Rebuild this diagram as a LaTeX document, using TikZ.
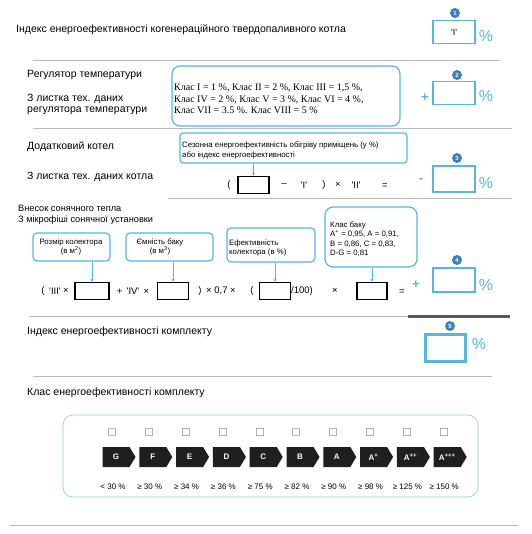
\documentclass[tikz,border=0pt]{standalone}
\usepackage{fontspec}
\setmainfont{Liberation Sans}
\newfontfamily\timesfont{Liberation Serif}
\usetikzlibrary{arrows.meta,shapes.symbols}

\definecolor{boxblue}{RGB}{88,182,222}
\definecolor{dotblue}{RGB}{58,128,192}
\definecolor{rulegray}{RGB}{185,185,185}

\newcommand{\tick}[1]{\textquotesingle#1\textquotesingle}

\tikzset{
  head/.style={anchor=west, inner sep=0pt, font=\fontsize{10.5}{12}\selectfont},
  subhead/.style={anchor=west, inner sep=0pt, font=\fontsize{9.2}{10}\selectfont},
  resbox/.style={draw=boxblue, line width=1.5pt, minimum width=42pt, minimum height=23pt, inner sep=0pt, font=\fontsize{9}{9}\selectfont},
  numdot/.style={circle, fill=dotblue, text=white, inner sep=0pt, minimum size=10pt, font=\fontsize{6}{6}\selectfont\bfseries},
  pct/.style={text=boxblue, inner sep=0pt, font=\fontsize{16}{16}\selectfont},
  sign/.style={text=boxblue, inner sep=0pt, font=\fontsize{13}{13}\selectfont\bfseries},
  frm/.style={draw=boxblue, line width=1.2pt, rounded corners=4pt, inner sep=0pt},
  calltext/.style={inner sep=0pt, font=\fontsize{7.8}{9.3}\selectfont},
  inbox/.style={draw=black, line width=1.5pt, fill=white, minimum height=17pt, inner sep=0pt},
  op/.style={inner sep=0pt, font=\fontsize{9.5}{9.5}\selectfont},
  callarrow/.style={draw=boxblue, line width=1pt, -{Stealth[length=3pt,width=3pt]}},
  sep/.style={draw=rulegray, line width=1pt}
}

\begin{document}
\begin{tikzpicture}[x=1pt,y=-1pt]
  \useasboundingbox (0,0) rectangle (531,534);

  % 1
  \node[head] (t1) at (16,30) {Індекс енергоефективності когенераційного твердопаливного котла};
  \node[resbox] (r1) at (454,32) {\tick{I}};
  \node[numdot] (n1) at (455,13) {1};
  \node[pct] (p1) at (486,36) {\%};
  \draw[sep] (33,61) -- (500,61);

  % 2
  \node[head] (t2a) at (27,75) {Регулятор температури};
  \node[head] (t2b) at (27,99) {З листка тех. даних};
  \node[head] (t2c) at (27,111) {регулятора температури};
  \node[frm, rounded corners=8pt, minimum width=228pt, minimum height=60pt] (f2) at (286,96) {};
  \node[anchor=west, inner sep=0pt, align=left, font=\timesfont\fontsize{10}{11.5}\selectfont] (k2) at (174,99)
    {Клас I = 1 \%, Клас II = 2 \%, Клас III = 1,5 \%,\\Клас IV = 2 \%, Клас V = 3 \%, Клас VI = 4 \%,\\Клас VII = 3.5 \%. Клас VIII = 5 \%};
  \node[sign] (s2) at (425,98) {+};
  \node[resbox] (r2) at (454,93) {};
  \node[numdot] (n2) at (457,75) {2};
  \node[pct] (p2) at (486,96) {\%};
  \draw[sep] (33,129) -- (512,129);

  % 3
  \node[head] (t3a) at (27,147) {Додатковий котел};
  \node[head] (t3b) at (27,177) {З листка тех. даних котла};
  \node[frm, rounded corners=3pt, minimum width=227pt, minimum height=30pt] (f3) at (293.5,148) {};
  \node[calltext, anchor=west, align=left] (c3) at (182,150.5)
    {Сезонна енергоефективність обігріву приміщень (у \%)\\або індекс енергоефективності};
  \node[inbox, minimum width=31pt] (b3) at (253.5,185) {};
  \draw[callarrow] (b3 |- f3.south) -- (b3.north);
  \node[op] (o3a) at (229,185) {(};
  \node[op] (o3b) at (284,185) {--};
  \node[op] (o3c) at (304,185) {\tick{I}};
  \node[op] (o3d) at (324,185) {)};
  \node[op] (o3e) at (338,185) {×};
  \node[op] (o3f) at (356,185) {\tick{II}};
  \node[op] (o3g) at (385,186) {=};
  \node[sign] (s3) at (421,180) {-};
  \node[resbox, minimum height=26pt] (r3) at (454,179) {};
  \node[numdot] (n3) at (457,158) {3};
  \node[pct] (p3) at (486,183) {\%};
  \draw[sep] (168,199) -- (512,199);

  % 4
  \node[subhead] (t4a) at (18,208) {Внесок сонячного тепла};
  \node[subhead] (t4b) at (18,220) {З мікрофіші сонячної установки};
  \node[frm, minimum width=77pt, minimum height=28pt] (f4a) at (71.5,247) {};
  \node[calltext, align=center] (c4a) at (71,247) {Розмір колектора\\(в м\textsuperscript{2})};
  \node[frm, minimum width=87pt, minimum height=28pt] (f4b) at (169.5,247) {};
  \node[calltext, align=center] (c4b) at (160,247) {Ємність баку\\(в м\textsuperscript{3})};
  \node[frm, minimum width=88pt, minimum height=34pt] (f4c) at (271,245) {};
  \node[calltext, anchor=west, align=left] (c4c) at (229,248) {Ефективність\\колектора (в \%)};
  \node[frm, rounded corners=8pt, minimum width=92pt, minimum height=60pt] (f4d) at (371,237) {};
  \node[calltext, anchor=north west, align=left] (c4d) at (330,221.5)
    {Клас баку\\A\textsuperscript{+} = 0,95, A = 0,91,\\B = 0,86, C = 0,83,\\D-G = 0,81};
  \node[inbox, minimum width=34pt] (b4a) at (92,291) {};
  \node[inbox, minimum width=31pt] (b4b) at (173,291) {};
  \node[inbox, minimum width=31pt] (b4c) at (275,291) {};
  \node[inbox, minimum width=30pt] (b4d) at (372,291) {};
  \draw[callarrow] (b4a |- f4a.south) -- (b4a.north);
  \draw[callarrow] (b4b |- f4b.south) -- (b4b.north);
  \draw[callarrow] (b4c |- f4c.south) -- (b4c.north);
  \draw[callarrow] (b4d |- f4d.south) -- (b4d.north);
  \node[op] (o4a) at (43,291) {(};
  \node[op] (o4b) at (55,291) {\tick{III}};
  \node[op] (o4c) at (66,291) {×};
  \node[op] (o4d) at (133,291) {+ \,\tick{IV}\, ×};
  \node[op] (o4e) at (200,291) {)};
  \node[op] (o4f) at (221,291) {× 0,7 ×};
  \node[op] (o4g) at (252,291) {(};
  \node[op, anchor=west] (o4h) at (291,291) {/100)};
  \node[op] (o4i) at (335,291) {×};
  \node[op] (o4j) at (402,292) {=};
  \node[sign] (s4) at (416,285) {+};
  \node[resbox, minimum height=24pt] (r4) at (454,280) {};
  \node[numdot] (n4) at (457,260) {4};
  \node[pct] (p4) at (486,285) {\%};
  \draw[sep] (29,316) -- (408,316);
  \draw[line width=3pt, black!65] (408,316) -- (510,316);

  % 5
  \node[head] (t5) at (27,332) {Індекс енергоефективності комплекту};
  \node[resbox, line width=3pt, minimum width=40pt, minimum height=27pt] (r5) at (445,347.5) {};
  \node[numdot] (n5) at (450,326) {5};
  \node[pct] (p5) at (479,344) {\%};
  \draw[sep] (33,376) -- (492,376);

  % class
  \node[head] (t6) at (27,393) {Клас енергоефективності комплекту};
  \node[draw=boxblue!70, line width=0.6pt, rounded corners=10pt, minimum width=415pt, minimum height=82pt] (f6) at (270.5,456) {};
  \foreach \cls/\lim [count=\i from 0] in {G/{< 30 \%}, F/{≥ 30 \%}, E/{≥ 34 \%}, D/{≥ 36 \%}, C/{≥ 75 \%},
      B/{≥ 82 \%}, A/{≥ 90 \%}, {A\textsuperscript{+}}/{≥ 98 \%}, {A\textsuperscript{++}}/{≥ 125 \%}, {A\textsuperscript{+++}}/{≥ 150 \%}} {
    \node[draw=black!30, line width=0.4pt, minimum size=7pt, inner sep=0pt] (chk\i) at (112+36.8*\i,432) {};
    \node[signal, signal to=east, signal pointer angle=118, fill=black!88, text=white, minimum width=33pt,
      minimum height=20pt, inner sep=0pt, font=\fontsize{8}{8}\selectfont\bfseries] (cls\i) at (116+36.8*\i,457) {\cls};
    \node[inner sep=0pt, font=\fontsize{8}{8}\selectfont] (lim\i) at (113+36.8*\i,487) {\lim};
  }
  \draw[sep] (10,525) -- (518,525);
\end{tikzpicture}
\end{document}
